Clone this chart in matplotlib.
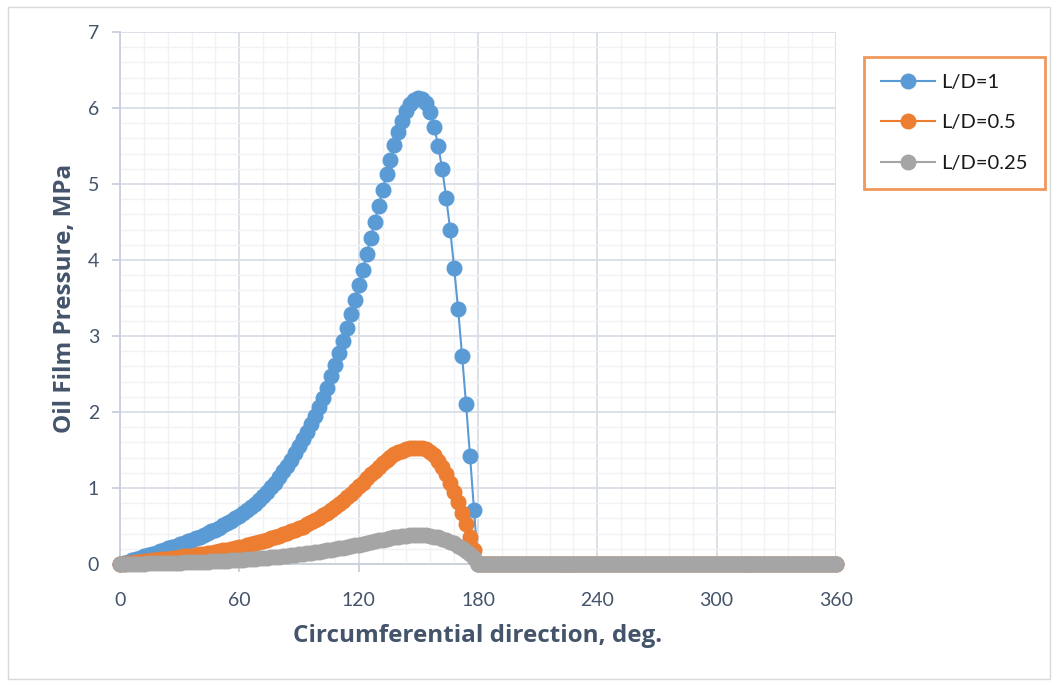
import numpy as np
import matplotlib
matplotlib.use("Agg")
import matplotlib.pyplot as plt
from matplotlib.ticker import MultipleLocator
from matplotlib.patches import Rectangle

plt.rcParams['font.family'] = ['Lato', 'DejaVu Sans']

# circumferential angle, deg (every 2 deg over the full bearing)
angle = np.arange(0, 361, 2)

# pressure over the loaded half, 0..180 deg, MPa
p_ld_1 = [0.00, 0.016, 0.03, 0.05, 0.065, 0.08, 0.10, 0.12, 0.13, 0.15,
          0.17, 0.19, 0.21, 0.22, 0.24, 0.26, 0.28, 0.30, 0.32, 0.34,
          0.36, 0.38, 0.41, 0.43, 0.45, 0.48, 0.51, 0.54, 0.57, 0.60,
          0.63, 0.67, 0.71, 0.75, 0.79, 0.84, 0.89, 0.95, 1.01, 1.07,
          1.14, 1.22, 1.29, 1.37, 1.46, 1.55, 1.64, 1.74, 1.84, 1.95,
          2.07, 2.19, 2.32, 2.47, 2.62, 2.78, 2.94, 3.11, 3.29, 3.48,
          3.67, 3.87, 4.08, 4.29, 4.50, 4.71, 4.92, 5.13, 5.32, 5.51,
          5.68, 5.83, 5.96, 6.05, 6.10, 6.13, 6.12, 6.07, 5.95, 5.75,
          5.50, 5.20, 4.82, 4.40, 3.90, 3.35, 2.74, 2.10, 1.42, 0.71,
          0.00]

p_ld_05 = [0.00, 0.006, 0.012, 0.018, 0.024, 0.03, 0.036, 0.042, 0.048, 0.054,
           0.06, 0.066, 0.072, 0.078, 0.084, 0.09, 0.10, 0.105, 0.11, 0.12,
           0.13, 0.135, 0.145, 0.15, 0.16, 0.17, 0.18, 0.19, 0.20, 0.21,
           0.22, 0.23, 0.245, 0.26, 0.275, 0.29, 0.305, 0.32, 0.34, 0.355,
           0.37, 0.39, 0.41, 0.43, 0.45, 0.47, 0.49, 0.52, 0.55, 0.58,
           0.61, 0.64, 0.67, 0.71, 0.75, 0.79, 0.83, 0.88, 0.92, 0.97,
           1.02, 1.07, 1.13, 1.18, 1.23, 1.28, 1.33, 1.37, 1.41, 1.45,
           1.47, 1.49, 1.51, 1.52, 1.53, 1.53, 1.53, 1.51, 1.48, 1.43,
           1.36, 1.28, 1.18, 1.06, 0.95, 0.82, 0.67, 0.52, 0.36, 0.19,
           0.00]

p_ld_025 = [0.000, 0.001, 0.002, 0.003, 0.004, 0.005, 0.006, 0.007, 0.008, 0.009,
            0.010, 0.012, 0.013, 0.015, 0.016, 0.018, 0.020, 0.022, 0.024, 0.026,
            0.028, 0.030, 0.032, 0.034, 0.037, 0.039, 0.042, 0.045, 0.048, 0.051,
            0.054, 0.057, 0.061, 0.065, 0.069, 0.073, 0.077, 0.082, 0.087, 0.092,
            0.097, 0.102, 0.108, 0.114, 0.120, 0.126, 0.133, 0.140, 0.147, 0.154,
            0.162, 0.170, 0.178, 0.187, 0.196, 0.205, 0.215, 0.225, 0.235, 0.245,
            0.256, 0.267, 0.278, 0.289, 0.300, 0.311, 0.322, 0.332, 0.342, 0.351,
            0.359, 0.366, 0.372, 0.377, 0.380, 0.381, 0.380, 0.376, 0.370, 0.361,
            0.349, 0.334, 0.316, 0.295, 0.271, 0.243, 0.212, 0.176, 0.135, 0.080,
            0.000]

# cavitated half, 182..360 deg: no pressure
p_unloaded = [0.0] * 90

labels = ['L/D=1', 'L/D=0.5', 'L/D=0.25']
colors = ['#5B9BD5', '#ED7D31', '#A5A5A5']
series = [p_ld_1 + p_unloaded, p_ld_05 + p_unloaded, p_ld_025 + p_unloaded]

text_col = '#44546A'
axis_col = '#C9D0DC'

fig = plt.figure(figsize=(10.56, 6.81), dpi=100)
ax = fig.add_axes([120 / 1056, 1 - 564 / 681, 716 / 1056, 532 / 681])

for vals, lab, col in zip(series, labels, colors):
    ax.plot(angle, vals, '-', color=col, lw=1.5, marker='o', ms=10.5,
            mec=col, mfc=col, label=lab, clip_on=False, zorder=3)

ax.set_xlim(0, 360)
ax.set_ylim(0, 7)
ax.xaxis.set_major_locator(MultipleLocator(60))
ax.xaxis.set_minor_locator(MultipleLocator(12))
ax.yaxis.set_major_locator(MultipleLocator(1))
ax.yaxis.set_minor_locator(MultipleLocator(0.2))

ax.grid(which='major', color='#D9DEE6', lw=1.3)
ax.grid(which='minor', color='#F0F2F5', lw=1.0)
ax.set_axisbelow(True)

for s in ['top', 'right']:
    ax.spines[s].set_visible(False)
ax.spines['left'].set_color(axis_col)
ax.spines['bottom'].set_color(axis_col)
ax.spines['left'].set_linewidth(1.3)
ax.spines['bottom'].set_linewidth(1.3)

ax.tick_params(which='major', length=6, width=1.3, color=axis_col,
               labelcolor=text_col, labelsize=14)
ax.tick_params(axis='x', which='major', pad=14)
ax.tick_params(axis='y', which='major', pad=9)
ax.tick_params(which='minor', length=0)

title_font = dict(family=['Open Sans', 'DejaVu Sans'], size=17.5,
                  weight='bold', color=text_col)
ax.set_xlabel('Circumferential direction, deg.', labelpad=11, **title_font)
ax.set_ylabel('Oil Film Pressure, MPa', labelpad=8, **title_font)

leg = fig.legend(loc='upper left', bbox_to_anchor=(864 / 1056, 1 - 57 / 681),
                 borderaxespad=0, frameon=True, fancybox=False, fontsize=14.5,
                 handlelength=2.7, handletextpad=0.3, labelspacing=1.15,
                 borderpad=0.85)
leg.get_frame().set_edgecolor('#ED7D31')
leg.get_frame().set_linewidth(2)
for t in leg.get_texts():
    t.set_color('#1a1a1a')

# outer chart border
fig.patches.append(Rectangle((8 / 1056, 2 / 681), 1042 / 1056, 672 / 681,
                             transform=fig.transFigure, fill=False,
                             edgecolor='#D9D9D9', lw=1))

fig.savefig('out.png', dpi=100)
